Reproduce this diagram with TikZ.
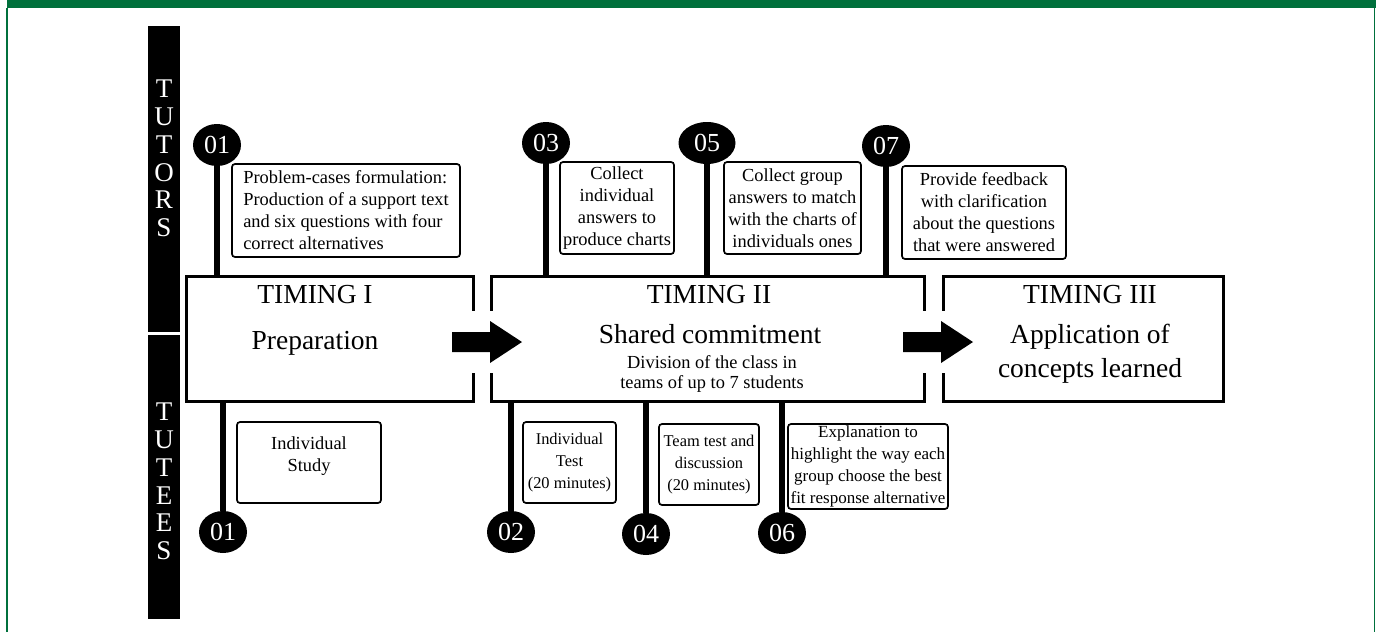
\documentclass[tikz,border=0pt]{standalone}
\usepackage{fontspec}
\setmainfont{Liberation Serif}
\usetikzlibrary{shapes,positioning}
\definecolor{framegreen}{RGB}{0,112,60}

\begin{document}
\begin{tikzpicture}[x=1pt,y=-1pt,
              timing/.style={draw, line width=3pt, inner sep=0pt},
              note/.style={draw, line width=1.7pt, rounded corners=3pt, align=center, inner sep=0pt, font=\fontsize{18.4}{22}\selectfont},
              smallnote/.style={note, font=\fontsize{16.4}{22}\selectfont},
              badge/.style={ellipse, fill=black, text=white, inner sep=0pt, minimum width=48pt, minimum height=42pt, font=\fontsize{26}{26}\selectfont},
              stem/.style={line width=6pt},
              side/.style={text=white, align=center, inner sep=0pt, font=\fontsize{27}{27.7}\selectfont},
              big/.style={font=\fontsize{27.5}{34}\selectfont},
              bigarrow/.style={fill=black},
             ]
\useasboundingbox (0,0) rectangle (1376,632);

\fill[framegreen] (7,0) rectangle (1376,8);
\draw[framegreen, line width=1.5pt] (7,8) -- (7,632);
\draw[framegreen, line width=1.5pt] (1374.5,8) -- (1374.5,632);

\fill (148,26) rectangle (180,332);
\fill (148,335) rectangle (180,619);
\node[side] (tutors) at (164,158.5) {T\\U\\T\\O\\R\\S};
\node[side] (tutees) at (164,481.5) {T\\U\\T\\E\\E\\S};

\node[timing, minimum width=287pt, minimum height=125pt] (tI) at (329.5,338.5) {};
\node[timing, minimum width=433pt, minimum height=125pt] (tII) at (707.5,338.5) {};
\node[timing, minimum width=280pt, minimum height=125pt] (tIII) at (1083,338.5) {};

\node[big, anchor=base] (tIhead) at (315,303) {TIMING I};
\node[big, anchor=base] (tIname) at (315,349) {Preparation};
\node[big, anchor=base] (tIIhead) at (709,303) {TIMING II};
\node[big, anchor=base] (tIIname) at (710,343) {Shared commitment};
\node[align=center, font=\fontsize{18.4}{20}\selectfont] (tIIsub) at (712,373.7) {Division of the class in\\teams of up to 7 students};
\node[big, anchor=base] (tIIIhead) at (1090,303) {TIMING III};
\node[big, align=center] (tIIIname) at (1090,353.6) {Application of\\concepts learned};

\foreach \ax in {452,903} {
  \fill[white] (\ax+15,311) rectangle (\ax+45,373);
  \fill[bigarrow] (\ax,332) -- (\ax+38,332) -- (\ax+38,321) -- (\ax+70,342) -- (\ax+38,363) -- (\ax+38,352) -- (\ax,352) -- cycle;
}

\node[note, align=left, minimum width=228pt, minimum height=93pt] (n01) at (346,210.5) {Problem-cases formulation:\\Production of a support text\\and six questions with four\\correct alternatives};
\node[note, minimum width=114pt, minimum height=92pt] (n03) at (617,208) {Collect\\individual\\answers to\\produce charts};
\node[note, minimum width=137pt, minimum height=92pt] (n05) at (792.5,208) {Collect group\\answers to match\\with the charts of\\individuals ones};
\node[note, minimum width=164pt, minimum height=93pt] (n07) at (984,212.5) {Provide feedback\\with clarification\\about the questions\\that were answered};

\node[note, minimum width=144pt, minimum height=81pt] (n01s) at (309,462.5) {};
\node[align=center, inner sep=0pt, font=\fontsize{18.4}{22}\selectfont, below=15pt of n01s.north] (n01stext) {Individual\\Study};
\node[smallnote, minimum width=93pt, minimum height=81pt] (n02) at (569.5,462.5) {Individual\\Test\\(20 minutes)};
\node[smallnote, minimum width=100pt, minimum height=81pt] (n04) at (709,464.5) {Team test and\\discussion\\(20 minutes)};
\node[note, minimum width=160pt, minimum height=85pt, font=\fontsize{17}{22}\selectfont] (n06) at (868,466.5) {Explanation to\\highlight the way each\\group choose the best\\fit response alternative};

\node[badge] (c01t) at (217,145) {01};
\node[badge] (c03) at (546,143) {03};
\node[badge, minimum width=57pt] (c05) at (707,143) {05};
\node[badge] (c07) at (886,146) {07};
\node[badge] (c01b) at (223,532) {01};
\node[badge] (c02) at (511,532) {02};
\node[badge] (c04) at (646,534) {04};
\node[badge] (c06) at (782,533) {06};

\draw[stem] (c01t.south) -- (c01t.south |- tI.north);
\draw[stem] (c03.south) -- (c03.south |- tII.north);
\draw[stem] (c05.south) -- (c05.south |- tII.north);
\draw[stem] (c07.south) -- (c07.south |- tII.north);
\draw[stem] (c01b.north) -- (c01b.north |- tI.south);
\draw[stem] (c02.north) -- (c02.north |- tII.south);
\draw[stem] (c04.north) -- (c04.north |- tII.south);
\draw[stem] (c06.north) -- (c06.north |- tII.south);
\end{tikzpicture}
\end{document}
